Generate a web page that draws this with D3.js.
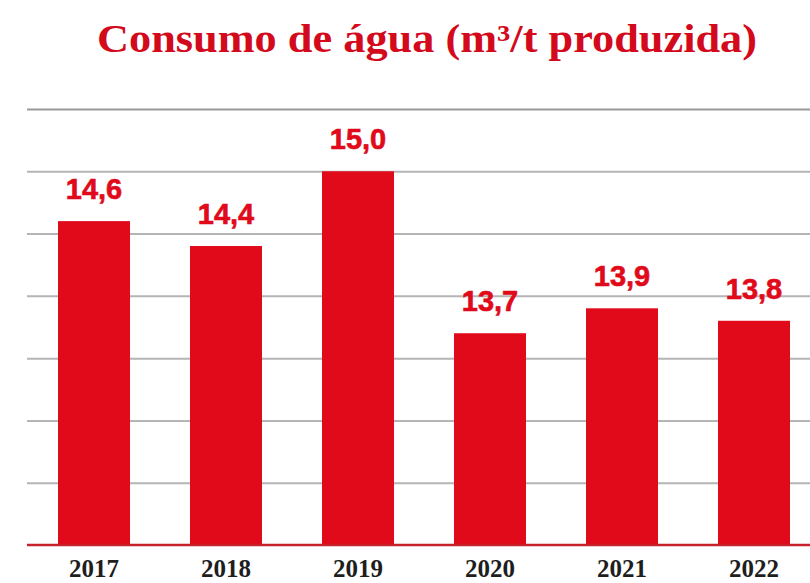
<!DOCTYPE html>
<html>
<head>
<meta charset="utf-8">
<script src="https://cdn.jsdelivr.net/npm/d3@7"></script>
<style>
  body { margin: 0; background: #fff; }
  svg { display: block; }
</style>
</head>
<body>
<div id="chart"></div>
<script>
var years = ["2017", "2018", "2019", "2020", "2021", "2022"];
var consumo = [14.6, 14.4, 15.0, 13.7, 13.9, 13.8];
var gridTicks = [12, 12.5, 13, 13.5, 14, 14.5, 15, 15.5];

var width = 810,
    height = 583,
    red = "#e00a1b";

var svg = d3.select("#chart")
    .append("svg")
    .attr("width", width)
    .attr("height", height);

var x = d3.scaleBand()
    .domain(years)
    .range([28, 28 + 6 * 132])
    .paddingInner(0.4545)
    .paddingOuter(0.2273);

var y = d3.scaleLinear()
    .domain([12, 15.5])
    .range([545, 109]);

// title
svg.append("text")
    .attr("x", 427)
    .attr("y", 52)
    .attr("text-anchor", "middle")
    .attr("textLength", 660)
    .attr("lengthAdjust", "spacingAndGlyphs")
    .style("font-family", "'Liberation Serif', serif")
    .style("font-weight", "bold")
    .style("font-size", "39px")
    .style("fill", "#d3091c")
    .text("Consumo de água (m³/t produzida)");

// gridlines
var yAxis = d3.axisLeft(y)
    .tickValues(gridTicks.slice(1))
    .tickSize(-(width - 27))
    .tickFormat("");

var grid = svg.append("g")
    .attr("transform", "translate(27,0)")
    .call(yAxis);
grid.select(".domain").remove();
grid.selectAll(".tick line")
    .attr("stroke", function(d) { return d == 15.5 ? "#999" : "#b5b5b5"; })
    .attr("stroke-width", 2);

// bars
svg.append("g")
    .selectAll("rect")
    .data(consumo)
    .enter().append("rect")
    .attr("x", function(d, i) { return x(years[i]); })
    .attr("y", function(d) { return y(d); })
    .attr("width", x.bandwidth())
    .attr("height", function(d) { return y(12) - y(d); })
    .attr("fill", red);

// baseline
svg.append("line")
    .attr("x1", 27)
    .attr("x2", width)
    .attr("y1", y(12))
    .attr("y2", y(12))
    .attr("stroke", "#c8232c")
    .attr("stroke-width", 2.5);

// value labels
svg.append("g")
    .selectAll("text")
    .data(consumo)
    .enter().append("text")
    .attr("x", function(d, i) { return x(years[i]) + x.bandwidth() / 2; })
    .attr("y", function(d) { return y(d) - 22; })
    .attr("text-anchor", "middle")
    .style("font-family", "'Liberation Sans', sans-serif")
    .style("font-weight", "bold")
    .style("font-size", "29px")
    .style("stroke", red)
    .style("stroke-width", 0.6)
    .style("fill", red)
    .text(function(d) { return d3.format(".1f")(d).replace(".", ","); });

// year labels
var xAxis = d3.axisBottom(x).tickSize(0).tickPadding(0);
var xg = svg.append("g")
    .attr("transform", "translate(0,577)")
    .call(xAxis);
xg.select(".domain").remove();
xg.selectAll("text")
    .attr("dy", 0)
    .attr("y", 0)
    .style("font-family", "'Liberation Serif', serif")
    .style("font-weight", "bold")
    .style("font-size", "25px")
    .style("fill", "#1e1e1e");
</script>
</body>
</html>
